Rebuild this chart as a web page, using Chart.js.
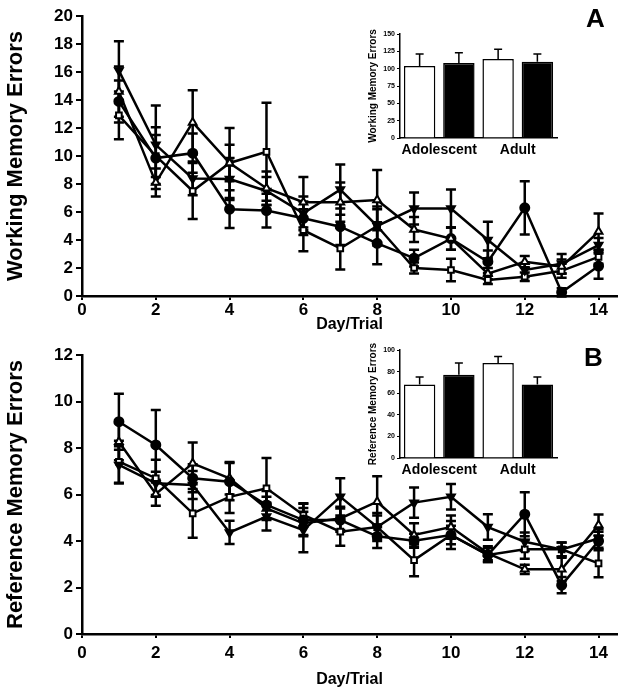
<!DOCTYPE html>
<html>
<head>
<meta charset="utf-8">
<script src="https://cdn.jsdelivr.net/npm/chart.js@4.4.0/dist/chart.umd.min.js"></script>
<style>
  body { margin: 0; background: #fff; }
  #wrap { position: relative; width: 626px; height: 699px; }
  .box { position: absolute; }
  .panel-letter { position: absolute; font: bold 26px "Liberation Sans", Arial, sans-serif; color: #000; }
</style>
</head>
<body>
<div id="wrap">
  <div class="box" style="left:0;top:0;width:626px;height:336px"><canvas id="chart-a"></canvas></div>
  <div class="box" style="left:0;top:336px;width:626px;height:363px"><canvas id="chart-b"></canvas></div>
  <div class="box" style="left:360px;top:14px;width:204px;height:146px"><canvas id="inset-a"></canvas></div>
  <div class="box" style="left:360px;top:332px;width:204px;height:148px"><canvas id="inset-b"></canvas></div>
  <div class="panel-letter" style="left:586px;top:3px">A</div>
  <div class="panel-letter" style="left:584px;top:342px">B</div>
</div>
<script>
const FONT = '"Liberation Sans", Arial, sans-serif';

const days = [1, 2, 3, 4, 5, 6, 7, 8, 9, 10, 11, 12, 13, 14];
const xTicks = [0, 2, 4, 6, 8, 10, 12, 14];

// panel A - working memory errors
const wmTriOpen = [14.6, 8.1, 12.4, 9.5, 7.7, 6.7, 6.7, 6.85, 4.75, 4.1, 1.6, 2.45, 2.1, 4.6];
const wmTriOpenErr = [1.8, 1.0, 2.3, 2.5, 1.2, 1.8, 1.4, 2.15, 0.9, 0.8, 0.4, 0.4, 0.5, 1.3];
const wmTriFilled = [16.1, 10.8, 8.4, 8.35, 7.5, 5.9, 7.6, 5.0, 6.25, 6.25, 4.0, 1.86, 2.3, 3.64];
const wmTriFilledErr = [2.1, 2.8, 1.2, 1.5, 1.0, 1.2, 1.8, 1.2, 1.15, 1.35, 1.3, 0.5, 0.7, 0.5];
const wmCircle = [13.9, 9.85, 10.2, 6.2, 6.1, 5.55, 4.95, 3.76, 2.7, 4.1, 2.45, 6.3, 0.26, 2.14];
const wmCircleErr = [1.5, 2.2, 1.4, 1.35, 1.2, 1.2, 1.3, 1.5, 0.6, 0.8, 0.8, 1.9, 0.3, 0.9];
const wmSquareOpen = [12.9, 10.0, 7.5, 9.5, 10.3, 4.7, 3.4, 5.0, 2.0, 1.86, 1.15, 1.38, 1.8, 2.8];
const wmSquareOpenErr = [1.7, 1.5, 2.0, 1.3, 3.5, 1.5, 1.5, 1.4, 0.4, 0.8, 0.3, 0.3, 0.5, 0.5];

// panel B - reference memory errors
const rmCircle = [9.13, 8.13, 6.7, 6.55, 5.55, 4.9, 4.9, 4.2, 4.01, 4.26, 3.4, 5.15, 2.1, 4.0];
const rmCircleErr = [1.2, 1.5, 0.6, 0.8, 0.6, 0.7, 0.5, 0.5, 0.3, 0.6, 0.3, 0.95, 0.35, 0.4];
const rmTriOpen = [8.27, 6.02, 7.34, 6.7, 5.4, 4.76, 4.97, 5.69, 4.26, 4.6, 3.47, 2.78, 2.78, 4.69];
const rmTriOpenErr = [0.8, 0.5, 0.9, 0.7, 0.5, 0.5, 0.5, 1.1, 0.5, 0.5, 0.3, 0.2, 0.5, 0.45];
const rmTriFilled = [7.27, 6.48, 6.41, 4.37, 5.05, 4.47, 5.9, 4.6, 5.65, 5.9, 4.6, 3.97, 3.64, 4.11];
const rmTriFilledErr = [0.8, 0.5, 0.6, 0.5, 0.6, 0.95, 0.8, 0.5, 0.65, 0.55, 0.55, 0.4, 0.3, 0.4];
const rmSquareOpen = [7.41, 6.7, 5.19, 5.9, 6.27, 5.12, 4.4, 4.6, 3.18, 4.26, 3.4, 3.64, 3.64, 3.04];
const rmSquareOpenErr = [0.9, 0.8, 1.05, 0.7, 1.3, 0.5, 0.6, 0.6, 0.7, 0.4, 0.3, 0.4, 0.3, 0.6];

// insets - total errors
const groups = ["Adolescent", "Adult"];
const wmTotalWhite = [104, 114];
const wmTotalWhiteErr = [17, 14];
const wmTotalBlack = [108, 110];
const wmTotalBlackErr = [15, 11];
const rmTotalWhite = [68, 88];
const rmTotalWhiteErr = [7, 6];
const rmTotalBlack = [77, 68];
const rmTotalBlackErr = [11, 7];

// draws error bars from ds.errors using the chart's own y scale
const errorBars = {
  id: "errorBars",
  beforeDatasetsDraw(chart, args, opts) {
    if (opts.upOnly) return;
    drawErrors(chart, opts);
  },
  afterDatasetsDraw(chart, args, opts) {
    if (!opts.upOnly) return;
    drawErrors(chart, opts);
  },
};

function drawErrors(chart, opts) {
  const ctx = chart.ctx;
  ctx.save();
  ctx.strokeStyle = "#000";
  ctx.lineWidth = opts.lineWidth || 2.5;
  const cap = opts.cap || 5;
  chart.data.datasets.forEach((ds, i) => {
    if (!ds.errors) return;
    const meta = chart.getDatasetMeta(i);
    const yScale = chart.scales[meta.yAxisID];
    meta.data.forEach((el, j) => {
      const raw = ds.data[j];
      const value = typeof raw === "object" ? raw.y : raw;
      const err = ds.errors[j];
      const top = yScale.getPixelForValue(value + err);
      const bottom = opts.upOnly ? el.y : yScale.getPixelForValue(value - err);
      ctx.beginPath();
      ctx.moveTo(el.x, top);
      ctx.lineTo(el.x, bottom);
      ctx.moveTo(el.x - cap, top);
      ctx.lineTo(el.x + cap, top);
      if (!opts.upOnly) {
        ctx.moveTo(el.x - cap, bottom);
        ctx.lineTo(el.x + cap, bottom);
      }
      ctx.stroke();
    });
  });
  ctx.restore();
}

function toPoints(values) {
  return days.map((d, i) => ({ x: d, y: values[i] }));
}

function lineSet(label, values, errors, style, open, rotation) {
  return {
    label: label,
    data: toPoints(values),
    errors: errors,
    borderColor: "#000",
    borderWidth: 2.5,
    pointStyle: style,
    pointRotation: rotation || 0,
    pointRadius: style === "rect" ? 4 : 4.5,
    pointBorderWidth: 2,
    pointBorderColor: "#000",
    pointBackgroundColor: open ? "#fff" : "#000",
    tension: 0,
  };
}

function mainChart(canvasId, datasets, yMax, yTitle, padTop, xHeight, tickPad, titlePadBottom) {
  return new Chart(document.getElementById(canvasId), {
    type: "line",
    data: { datasets: datasets },
    plugins: [errorBars],
    options: {
      responsive: true,
      maintainAspectRatio: false,
      animation: false,
      layout: { padding: { top: padTop, right: 9, left: 0, bottom: 0 } },
      plugins: {
        legend: { display: false },
        tooltip: { enabled: false },
        errorBars: { lineWidth: 2.5, cap: 5 },
      },
      scales: {
        x: {
          type: "linear",
          min: 0,
          max: 14.5,
          afterBuildTicks: (s) => {
            s.ticks = xTicks.map((v) => ({ value: v }));
          },
          afterFit: (s) => {
            s.height = xHeight;
          },
          grid: { drawOnChartArea: false, drawTicks: true, tickLength: 4, color: "#000", lineWidth: 2 },
          border: { display: true, color: "#000", width: 2.5 },
          ticks: { color: "#000", font: { family: FONT, size: 17, weight: "bold" }, padding: tickPad, maxRotation: 0 },
          title: {
            display: true,
            text: "Day/Trial",
            color: "#000",
            font: { family: FONT, size: 16, weight: "bold" },
            padding: { top: 0, bottom: titlePadBottom },
          },
        },
        y: {
          min: 0,
          max: yMax,
          afterFit: (s) => {
            s.width = 82;
          },
          grid: { drawOnChartArea: false, drawTicks: true, tickLength: 6, color: "#000", lineWidth: 2 },
          border: { display: true, color: "#000", width: 2.5 },
          ticks: { stepSize: 2, color: "#000", font: { family: FONT, size: 17, weight: "bold" }, padding: 3 },
          title: {
            display: true,
            text: yTitle,
            color: "#000",
            font: { family: FONT, size: 22, weight: "bold" },
            padding: { top: 3, bottom: 0 },
          },
        },
      },
    },
  });
}

mainChart(
  "chart-a",
  [
    lineSet("Open triangle", wmTriOpen, wmTriOpenErr, "triangle", true),
    lineSet("Filled triangle", wmTriFilled, wmTriFilledErr, "triangle", false, 180),
    lineSet("Filled circle", wmCircle, wmCircleErr, "circle", false),
    lineSet("Open square", wmSquareOpen, wmSquareOpenErr, "rect", true),
  ],
  20,
  "Working Memory Errors",
  16,
  40,
  0,
  2
);

mainChart(
  "chart-b",
  [
    lineSet("Filled circle", rmCircle, rmCircleErr, "circle", false),
    lineSet("Open triangle", rmTriOpen, rmTriOpenErr, "triangle", true),
    lineSet("Filled triangle", rmTriFilled, rmTriFilledErr, "triangle", false, 180),
    lineSet("Open square", rmSquareOpen, rmSquareOpenErr, "rect", true),
  ],
  12,
  "Reference Memory Errors",
  19,
  65,
  5,
  10
);

function insetChart(canvasId, white, whiteErr, black, blackErr, yMax, step, yTitle, padTop) {
  return new Chart(document.getElementById(canvasId), {
    type: "bar",
    data: {
      labels: groups,
      datasets: [
        { data: white, errors: whiteErr, backgroundColor: "#fff", borderColor: "#000", borderWidth: 1.5 },
        { data: black, errors: blackErr, backgroundColor: "#000", borderColor: "#000", borderWidth: 1.5 },
      ],
    },
    plugins: [errorBars],
    options: {
      responsive: true,
      maintainAspectRatio: false,
      animation: false,
      layout: { padding: { top: padTop, right: 7, left: 0, bottom: 0 } },
      datasets: { bar: { categoryPercentage: 1, barPercentage: 0.8 } },
      plugins: {
        legend: { display: false },
        tooltip: { enabled: false },
        errorBars: { upOnly: true, lineWidth: 1.5, cap: 4 },
      },
      scales: {
        x: {
          afterFit: (s) => {
            s.height = 22;
          },
          grid: { drawOnChartArea: false, drawTicks: false },
          border: { display: true, color: "#000", width: 1.5 },
          ticks: {
            color: "#000",
            font: { family: FONT, size: 14, weight: "bold" },
            padding: 4,
            maxRotation: 0,
            minRotation: 0,
            autoSkip: false,
          },
        },
        y: {
          min: 0,
          max: yMax,
          afterFit: (s) => {
            s.width = 40;
          },
          grid: { drawOnChartArea: false, drawTicks: true, tickLength: 3, color: "#000", lineWidth: 1 },
          border: { display: true, color: "#000", width: 1.5 },
          ticks: { stepSize: step, color: "#000", font: { family: FONT, size: 7, weight: "bold" }, padding: 2 },
          title: {
            display: true,
            text: yTitle,
            color: "#000",
            font: { family: FONT, size: 10, weight: "bold" },
            padding: { top: 7, bottom: 0 },
          },
        },
      },
    },
  });
}

insetChart("inset-a", wmTotalWhite, wmTotalWhiteErr, wmTotalBlack, wmTotalBlackErr, 150, 25, "Working Memory Errors", 20);
insetChart("inset-b", rmTotalWhite, rmTotalWhiteErr, rmTotalBlack, rmTotalBlackErr, 100, 20, "Reference Memory Errors", 18);
</script>
</body>
</html>
